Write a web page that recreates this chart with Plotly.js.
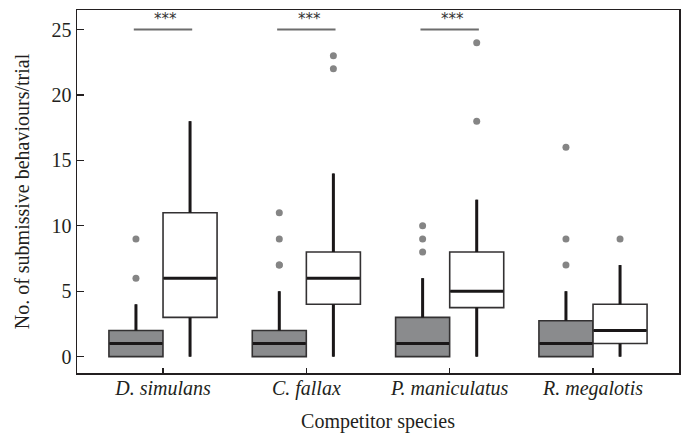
<!DOCTYPE html>
<html>
<head>
<meta charset="utf-8">
<script src="https://cdn.plot.ly/plotly-3.0.1.min.js"></script>
<style>html,body{margin:0;padding:0;background:#fff;}#chart{width:686px;height:436px;}</style>
</head>
<body>
<div id="chart"></div>
<script>
// Categories
var species = ['D. simulans', 'C. fallax', 'P. maniculatus', 'R. megalotis'];
var significance = ['***', '***', '***', ''];

// Grey (filled) boxes
var greyQ1 = [0, 0, 0, 0];
var greyMedian = [1, 1, 1, 1];
var greyQ3 = [2, 2, 3, 2.75];
var greyLower = [0, 0, 0, 0];
var greyUpper = [4, 5, 6, 5];
var greyOutliers = [[6, 9], [7, 7, 9, 11], [8, 9, 10], [7, 9, 16]];

// White (open) boxes
var whiteQ1 = [3, 4, 3.75, 1];
var whiteMedian = [6, 6, 5, 2];
var whiteQ3 = [11, 8, 8, 4];
var whiteLower = [0, 0, 0, 0];
var whiteUpper = [18, 14, 12, 7];
var whiteOutliers = [[], [22, 23], [18, 24], [9]];

var sigLevel = 25;

// layout helpers
var offset = 0.1887, boxW = 0.377;
var idx = species.map(function (_, i) { return i; });
var greyX = idx.map(function (i) { return i - offset; });
var whiteX = idx.map(function (i) { return i + offset; });

function outlierTrace(xs, outs) {
  var x = [], y = [];
  outs.forEach(function (arr, i) { arr.forEach(function (v) { x.push(xs[i]); y.push(v); }); });
  return {type: 'scatter', mode: 'markers', x: x, y: y, showlegend: false, hoverinfo: 'y',
    marker: {color: '#858585', size: 7, line: {width: 0}}};
}

// thick whiskers and medians drawn over the boxes
function whiskerTrace(xs, q1, q3, lo, hi) {
  var x = [], y = [];
  xs.forEach(function (p, i) {
    x.push(p, p, null, p, p, null);
    y.push(q3[i], hi[i], null, lo[i], q1[i], null);
  });
  return {type: 'scatter', mode: 'lines', x: x, y: y, showlegend: false, hoverinfo: 'skip',
    line: {color: '#1a1718', width: 3}};
}
function medianTrace(xs, med) {
  var x = [], y = [];
  xs.forEach(function (p, i) {
    x.push(p - boxW / 2 + 0.004, p + boxW / 2 - 0.004, null);
    y.push(med[i], med[i], null);
  });
  return {type: 'scatter', mode: 'lines', x: x, y: y, showlegend: false, hoverinfo: 'skip',
    line: {color: '#1a1718', width: 3}};
}

var boxLine = {color: '#333132', width: 1.6};
var traces = [
  {type: 'box', x: greyX, q1: greyQ1, median: greyMedian, q3: greyQ3,
   lowerfence: greyLower, upperfence: greyUpper, width: boxW, whiskerwidth: 0,
   fillcolor: '#8a8b8d', line: boxLine, boxpoints: false, showlegend: false},
  {type: 'box', x: whiteX, q1: whiteQ1, median: whiteMedian, q3: whiteQ3,
   lowerfence: whiteLower, upperfence: whiteUpper, width: boxW, whiskerwidth: 0,
   fillcolor: '#ffffff', line: boxLine, boxpoints: false, showlegend: false},
  whiskerTrace(greyX, greyQ1, greyQ3, greyLower, greyUpper),
  whiskerTrace(whiteX, whiteQ1, whiteQ3, whiteLower, whiteUpper),
  medianTrace(greyX, greyMedian),
  medianTrace(whiteX, whiteMedian),
  outlierTrace(greyX, greyOutliers),
  outlierTrace(whiteX, whiteOutliers)
];

var annotations = [];
idx.forEach(function (i) {
  if (!significance[i]) return;
  traces.push({type: 'scatter', mode: 'lines', x: [greyX[i] - 0.015, whiteX[i] + 0.015], y: [sigLevel, sigLevel],
    line: {color: '#6d6d6d', width: 2}, showlegend: false, hoverinfo: 'skip'});
  annotations.push({x: i + 0.02, y: sigLevel, xref: 'x', yref: 'y', text: significance[i],
    showarrow: false, yanchor: 'bottom', yshift: 0,
    font: {family: 'DejaVu Sans, sans-serif', size: 15, color: '#333'}});
});

var serif = 'Liberation Serif, Times New Roman, serif';
var layout = {
  width: 686, height: 436,
  margin: {l: 77, r: 7, t: 10, b: 63},
  paper_bgcolor: '#fff', plot_bgcolor: '#fff',
  font: {family: serif, size: 20, color: '#231f20'},
  showlegend: false,
  xaxis: {
    range: [-0.6, 3.6], tickmode: 'array', tickvals: idx,
    ticktext: species.map(function (s) { return '<i>' + s + '</i>'; }),
    ticks: 'inside', ticklen: 5, tickwidth: 1.2, tickcolor: '#231f20',
    ticklabelstandoff: -4,
    showline: true, linecolor: '#231f20', linewidth: 1.5, mirror: true,
    showgrid: false, zeroline: false,
    tickfont: {family: serif, size: 20},
    title: {text: 'Competitor species', font: {family: serif, size: 20}, standoff: 15}
  },
  yaxis: {
    range: [-1.25, 26.5], tickmode: 'array', tickvals: [0, 5, 10, 15, 20, 25],
    ticks: 'inside', ticklen: 7, tickwidth: 1.2, tickcolor: '#231f20',
    showline: true, linecolor: '#231f20', linewidth: 1.5, mirror: true,
    showgrid: false, zeroline: false,
    tickfont: {family: serif, size: 20},
    title: {text: 'No. of submissive behaviours/trial', font: {family: serif, size: 20}, standoff: 16}
  },
  annotations: annotations
};

Plotly.newPlot('chart', traces, layout, {displayModeBar: false, staticPlot: true});
</script>
</body>
</html>
